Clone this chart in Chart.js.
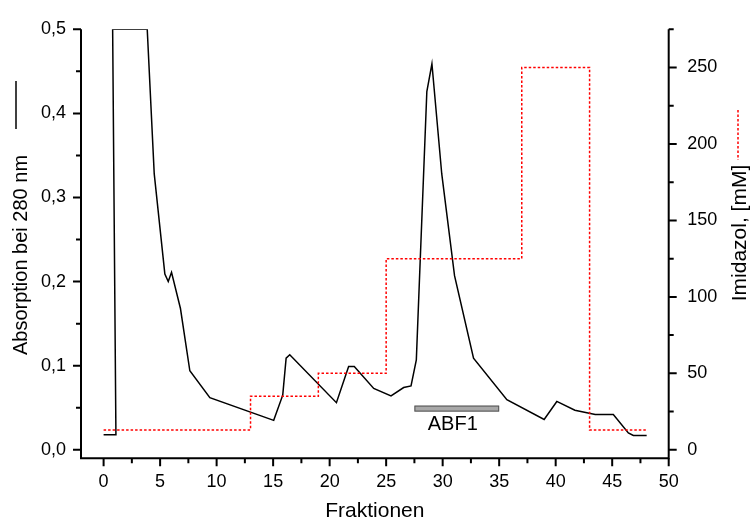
<!DOCTYPE html>
<html>
<head>
<meta charset="utf-8">
<script src="https://cdn.jsdelivr.net/npm/chart.js@4/dist/chart.umd.min.js"></script>
<style>
  html, body { margin: 0; padding: 0; background: #fff; }
  canvas { display: block; }
</style>
</head>
<body>
<canvas id="chart" width="751" height="521"></canvas>
<script>
/* ---------- DATA ---------- */
// Absorption bei 280 nm (black line)
const absX = [0, 1.09, 0.8, 3.86, 4.48, 5.42, 5.72, 6.01, 6.8, 7.63, 9.4, 15.05, 15.85, 16.15, 16.47,
              20.6, 21.68, 22.18, 23.9, 25.43, 26.55, 27.2, 27.67, 27.96, 28.6, 29.05, 29.92, 31.05,
              32.73, 35.68, 38.98, 40.1, 41.7, 43.5, 45.1, 46.43, 46.87, 48.05];
const absY = [0.018, 0.018, 0.5, 0.5, 0.328, 0.209, 0.200, 0.211, 0.168, 0.094, 0.062, 0.035, 0.065, 0.109, 0.113,
              0.056, 0.099, 0.099, 0.073, 0.064, 0.074, 0.076, 0.107, 0.207, 0.426, 0.459, 0.328, 0.207,
              0.109, 0.0595, 0.036, 0.0575, 0.047, 0.042, 0.042, 0.020, 0.017, 0.017];

// Imidazol gradient [mM] (red dotted step line)
const imidX = [0, 13, 19, 25, 37, 43, 48];
const imidY = [13, 35, 50, 125, 250, 13, 13];

// axis ticks
const xTicks    = [0, 5, 10, 15, 20, 25, 30, 35, 40, 45, 50];
const absTicks  = [0, 0.1, 0.2, 0.3, 0.4, 0.5];
const imidTicks = [0, 50, 100, 150, 200, 250];

// ABF1 pooled fractions
const abfRange = [27.5, 35];
const abfLevel = 0.049;
const abfText  = "ABF1";

/* ---------- HELPERS ---------- */
const FONT = '"Liberation Sans", Arial, sans-serif';
const fmtComma = v => v.toFixed(1).replace(".", ",");
const setTicks = list => axis => { axis.ticks = list.map(v => ({ value: v })); };

function tickLine(ctx, x1, y1, x2, y2) {
  ctx.moveTo(x1, y1);
  ctx.lineTo(x2, y2);
}

/* ---------- AXES / DECORATION PLUGIN ---------- */
const decoPlugin = {
  id: "deco",
  afterDraw(chart) {
    const { ctx, chartArea: a, scales } = chart;
    const sx = scales.x, sl = scales.yAbs, sr = scales.yImid;
    const MAJ = 8, MIN = 5;

    ctx.save();
    ctx.strokeStyle = "#000";
    ctx.lineWidth = 2;

    // axis lines (left, bottom, right)
    ctx.beginPath();
    ctx.moveTo(a.left, a.top);
    ctx.lineTo(a.left, a.bottom);
    ctx.lineTo(a.right, a.bottom);
    ctx.lineTo(a.right, a.top);
    ctx.stroke();

    ctx.beginPath();
    // bottom ticks
    for (let v = 0; v <= 50; v += 2.5) {
      const p = sx.getPixelForValue(v);
      tickLine(ctx, p, a.bottom, p, a.bottom + (v % 5 === 0 ? MAJ : MIN));
    }
    // left ticks
    for (let i = 0; i <= 10; i++) {
      const p = sl.getPixelForValue(i * 0.05);
      tickLine(ctx, a.left, p, a.left - (i % 2 === 0 ? MAJ : MIN), p);
    }
    // right ticks
    for (let v = 0; v <= 275; v += 25) {
      const p = sr.getPixelForValue(v);
      tickLine(ctx, a.right, p, a.right + (v % 50 === 0 ? MAJ : MIN), p);
    }
    ctx.stroke();

    // ABF1 bar
    const x0 = sx.getPixelForValue(abfRange[0]);
    const x1 = sx.getPixelForValue(abfRange[1]);
    const yb = sl.getPixelForValue(abfLevel);
    ctx.fillStyle = "#a8a8a8";
    ctx.fillRect(x0, yb - 3, x1 - x0, 6);
    ctx.strokeStyle = "#555";
    ctx.lineWidth = 1;
    ctx.strokeRect(x0 + 0.5, yb - 2.5, x1 - x0 - 1, 5);

    ctx.fillStyle = "#000";
    ctx.font = "20px " + FONT;
    ctx.textAlign = "center";
    ctx.textBaseline = "middle";
    ctx.fillText(abfText, (x0 + x1) / 2 - 4, yb + 16);

    // left title + legend line
    ctx.font = "20px " + FONT;
    ctx.save();
    ctx.translate(26.5, 255);
    ctx.rotate(-Math.PI / 2);
    ctx.textAlign = "center";
    ctx.textBaseline = "alphabetic";
    ctx.fillText("Absorption bei 280 nm", 0, 0);
    ctx.restore();

    ctx.strokeStyle = "#000";
    ctx.lineWidth = 1.5;
    ctx.beginPath();
    ctx.moveTo(16, 81);
    ctx.lineTo(16, 129);
    ctx.stroke();

    // right title + legend line
    ctx.font = "21px " + FONT;
    ctx.save();
    ctx.translate(745.5, 233);
    ctx.rotate(-Math.PI / 2);
    ctx.textAlign = "center";
    ctx.textBaseline = "alphabetic";
    ctx.fillText("Imidazol, [mM]", 0, 0);
    ctx.restore();

    ctx.strokeStyle = "#ff0000";
    ctx.setLineDash([2.5, 2]);
    ctx.beginPath();
    ctx.moveTo(738, 110);
    ctx.lineTo(738, 160);
    ctx.stroke();
    ctx.setLineDash([]);

    ctx.restore();
  }
};

/* ---------- CHART ---------- */
const ctx = document.getElementById("chart").getContext("2d");
const tickFont = { family: FONT, size: 18 };
const noGrid = { display: false, drawTicks: false };

new Chart(ctx, {
  type: "line",
  data: {
    datasets: [
      {
        label: "Imidazol",
        data: imidX.map((x, i) => ({ x, y: imidY[i] })),
        yAxisID: "yImid",
        borderColor: "#ff0000",
        borderWidth: 1.5,
        borderDash: [2.5, 2],
        stepped: "before",
        pointRadius: 0,
        fill: false
      },
      {
        label: "Absorption",
        data: absX.map((x, i) => ({ x, y: absY[i] })),
        yAxisID: "yAbs",
        borderColor: "#000",
        borderWidth: 1.5,
        tension: 0,
        pointRadius: 0,
        fill: false
      }
    ]
  },
  options: {
    responsive: false,
    animation: false,
    events: [],
    layout: { padding: { top: 24, left: 0, right: 0, bottom: 0 } },
    plugins: { legend: { display: false }, tooltip: { enabled: false } },
    scales: {
      x: {
        type: "linear",
        min: -2,
        max: 50,
        afterBuildTicks: setTicks(xTicks),
        afterFit: s => { s.height = 62.7; },
        grid: noGrid,
        border: { display: false },
        ticks: { color: "#000", font: tickFont, padding: 13 },
        title: {
          display: true,
          text: "Fraktionen",
          color: "#000",
          font: { family: FONT, size: 21 },
          padding: { top: 0, bottom: -3 }
        }
      },
      yAbs: {
        type: "linear",
        position: "left",
        min: -0.0101,
        max: 0.5,
        afterBuildTicks: setTicks(absTicks),
        afterFit: s => { s.width = 81; },
        grid: noGrid,
        border: { display: false },
        ticks: { color: "#000", font: tickFont, padding: 15, callback: v => fmtComma(v) }
      },
      yImid: {
        type: "linear",
        position: "right",
        min: -5.56,
        max: 275,
        afterBuildTicks: setTicks(imidTicks),
        afterFit: s => { s.width = 82.3; },
        grid: noGrid,
        border: { display: false },
        ticks: { color: "#000", font: tickFont, padding: 18.5 }
      }
    }
  },
  plugins: [decoPlugin]
});
</script>
</body>
</html>
